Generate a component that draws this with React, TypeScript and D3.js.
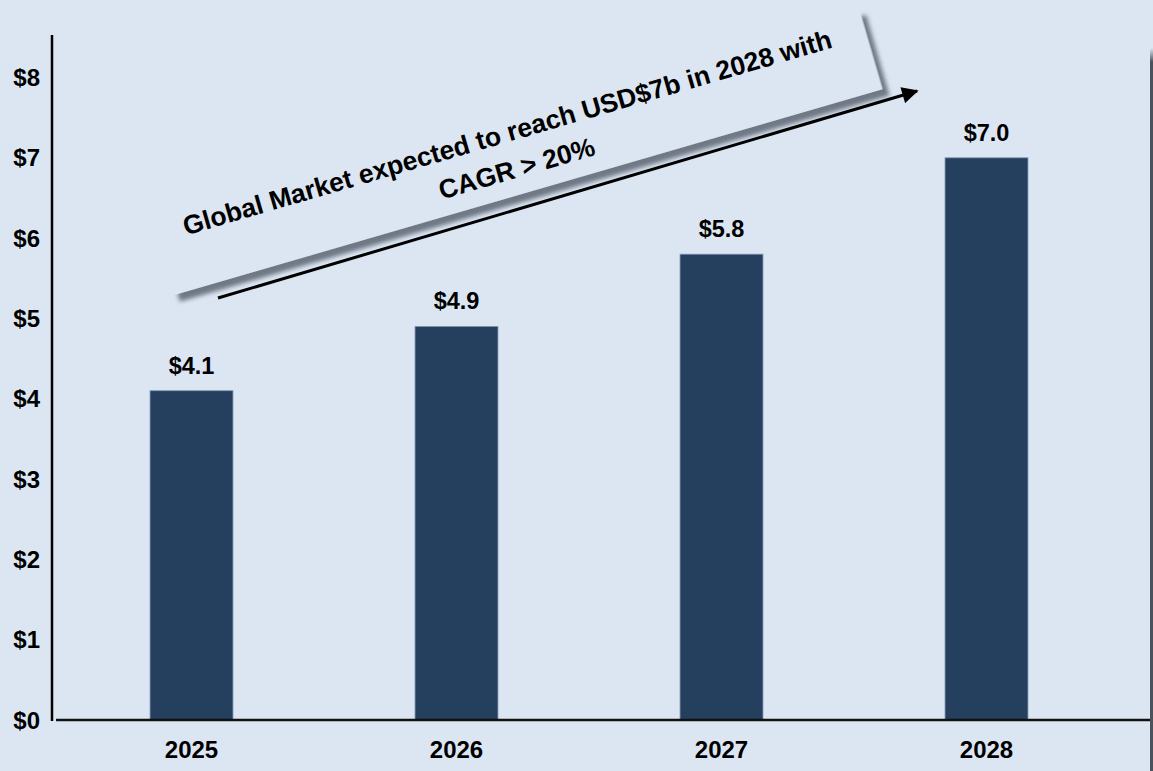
import React from "react";
import * as d3 from "d3";

const years = ["2025", "2026", "2027", "2028"];
const values = [4.1, 4.9, 5.8, 7.0];
const yTicks = [0, 1, 2, 3, 4, 5, 6, 7, 8];
const noteLines = ["Global Market expected to reach USD$7b in 2028 with", "CAGR > 20%"];

const W = 1153;
const H = 771;
const BG = "#dce6f2";
const BAR = "#253f5f";
const FONT = "'Liberation Sans', Arial, sans-serif";

export default function App() {
  const x = d3.scaleBand<string>().domain(years).range([59, 1119]).paddingInner(0.687).paddingOuter(0.3435);
  const y = d3.scaleLinear().domain([0, 8]).range([720, 77.5]);

  const angle = -16.2;
  const cx = 516;
  const cy = 152;
  const boxW = 739;
  const boxH = 84;

  return (
    <svg width={W} height={H} style={{ position: "absolute", left: 0, top: 0, display: "block" }} fontFamily={FONT}>
      <defs>
        <filter id="shadow" x="-10%" y="-50%" width="120%" height="200%">
          <feDropShadow dx="5" dy="8" stdDeviation="2.2" floodColor="#6b7280" floodOpacity="0.95" />
        </filter>
        <linearGradient id="edge" x1="0" y1="0" x2="0" y2="1">
          <stop offset="0" stopColor="#4c525a" stopOpacity="0" />
          <stop offset="1" stopColor="#4c525a" stopOpacity="1" />
        </linearGradient>
        <marker id="arrow" viewBox="0 0 10 10" refX="9" refY="5" markerWidth="6" markerHeight="5.5" orient="auto" markerUnits="strokeWidth">
          <path d="M0,0 L10,5 L0,10 z" fill="#000" />
        </marker>
      </defs>
      <rect x={0} y={0} width={W} height={H} fill={BG} />

      {/* right border */}
      <rect x={1150} y={48} width={3} height={14} fill="url(#edge)" />
      <rect x={1150} y={62} width={3} height={H - 62} fill="#4c525a" />

      {/* bars */}
      {years.map((yr, i) => (
        <rect
          key={yr}
          x={x(yr)!}
          y={y(values[i])}
          width={x.bandwidth()}
          height={y(0) - y(values[i])}
          fill={BAR}
          stroke="#7f95b3"
          strokeWidth={0.8}
        />
      ))}

      {/* value labels */}
      {years.map((yr, i) => (
        <text
          key={"v" + yr}
          x={x(yr)! + x.bandwidth() / 2}
          y={y(values[i]) - 17}
          textAnchor="middle"
          fontSize={23.5}
          fontWeight="bold"
          fill="#000"
        >
          {"$" + values[i].toFixed(1)}
        </text>
      ))}

      {/* axes */}
      <line x1={52} y1={35} x2={52} y2={721} stroke="#000" strokeWidth={2.5} />
      <line x1={56} y1={720} x2={1150} y2={720} stroke="#111" strokeWidth={2.5} />

      {yTicks.map((t) => (
        <text key={"t" + t} x={40} y={y(t)} dy="0.36em" textAnchor="end" fontSize={24} fontWeight="bold" fill="#000">
          {"$" + t}
        </text>
      ))}

      {years.map((yr) => (
        <text key={"x" + yr} x={x(yr)! + x.bandwidth() / 2} y={758} textAnchor="middle" fontSize={24} fontWeight="bold" fill="#000">
          {yr}
        </text>
      ))}

      {/* annotation box */}
      <g transform={`translate(${cx},${cy}) rotate(${angle})`}>
        <rect x={-boxW / 2} y={-boxH / 2} width={boxW} height={boxH} fill={BG} filter="url(#shadow)" />
        <text x={-3} y={-12} textAnchor="middle" fontSize={26.5} fontWeight="bold" fill="#000">
          {noteLines[0]}
        </text>
        <text x={-4} y={25} textAnchor="middle" fontSize={26.5} fontWeight="bold" fill="#000">
          {noteLines[1]}
        </text>
      </g>

      {/* arrow */}
      <line x1={218} y1={298} x2={917} y2={91} stroke="#000" strokeWidth={3} markerEnd="url(#arrow)" />
    </svg>
  );
}
